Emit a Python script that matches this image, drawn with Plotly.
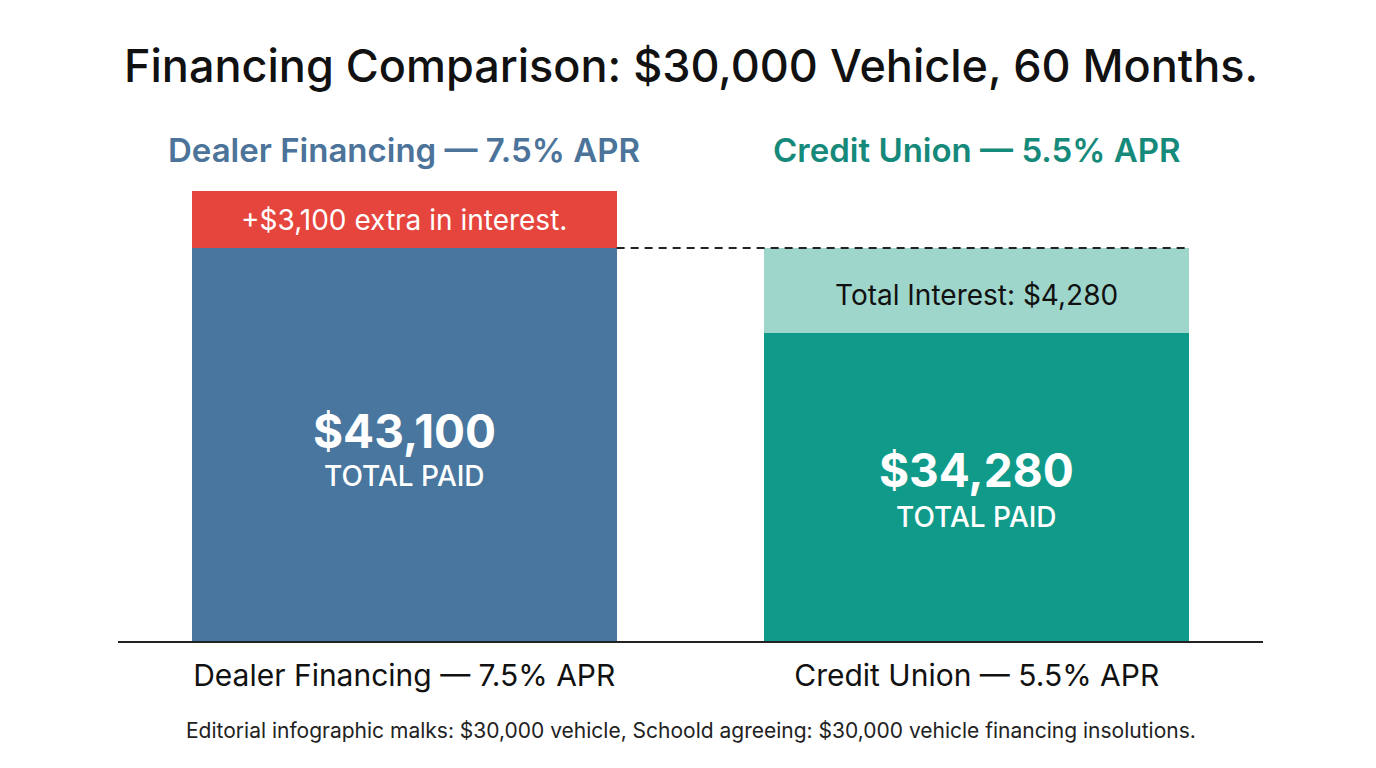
import plotly.graph_objects as go

# ---- data (segment heights, in dollars of the y scale) ----
categories = ["Dealer Financing — 7.5% APR", "Credit Union — 5.5% APR"]
header_labels = ["Dealer Financing — 7.5% APR", "Credit Union — 5.5% APR"]
base_segment = [34280, 26870]      # blue / dark teal
top_segment = [4970, 7410]         # red extra / light teal interest
total_labels = ["$43,100", "$34,280"]
top_labels = ["+$3,100 extra in interest.", "Total Interest: $4,280"]
reference_total = 34280            # dashed comparison line

TITLE = "Financing Comparison: $30,000 Vehicle, 60 Months."
FOOTNOTE = "Editorial infographic malks: $30,000 vehicle, Schoold agreeing: $30,000 vehicle financing insolutions."

base_colors = ["#48769e", "#0f9a8a"]
top_colors = ["#e5453d", "#9fd6cb"]
header_colors = ["#4c7399", "#15897a"]
top_text_colors = ["#ffffff", "#111111"]

FONT = "Inter"
BAR_W = 0.742
PLOT_H = 541

fig = go.Figure()
fig.add_trace(go.Bar(x=categories, y=base_segment, width=BAR_W,
                     marker=dict(color=base_colors, line=dict(width=0)),
                     hoverinfo="skip", showlegend=False))
fig.add_trace(go.Bar(x=categories, y=top_segment, width=BAR_W,
                     marker=dict(color=top_colors, line=dict(width=0)),
                     hoverinfo="skip", showlegend=False))

annotations = []
for i, cat in enumerate(categories):
    base_mid = base_segment[i] / 2
    top_mid = base_segment[i] + top_segment[i] / 2
    shifts = [(14, -31), (17, -30)][i]
    annotations.append(dict(x=cat, y=base_mid, text=total_labels[i], showarrow=False,
                            yshift=shifts[0], yanchor="middle",
                            font=dict(family=FONT, size=46, color="white", weight=700)))
    annotations.append(dict(x=cat, y=base_mid, text="TOTAL PAID", showarrow=False,
                            yshift=shifts[1], yanchor="middle",
                            font=dict(family=FONT, size=28, color="white", weight=500)))
    annotations.append(dict(x=cat, y=top_mid, text=top_labels[i], showarrow=False,
                            yshift=[0, -5][i], yanchor="middle",
                            font=dict(family=FONT, size=28, color=top_text_colors[i], weight=400)))
    annotations.append(dict(x=cat, y=(641 - 150) / PLOT_H, yref="paper", text=header_labels[i],
                            showarrow=False, yanchor="middle",
                            font=dict(family=FONT, size=33, color=header_colors[i], weight=600)))

annotations.append(dict(x=0.5, xref="paper", yref="paper", y=(641 - 65) / PLOT_H, text=TITLE,
                        showarrow=False, xanchor="center", yanchor="middle",
                        font=dict(family=FONT, size=45, color="#111111", weight=500)))
annotations.append(dict(x=(691 - 118) / 1145, xref="paper", yref="paper", y=-(731 - 641) / PLOT_H,
                        text=FOOTNOTE, showarrow=False, xanchor="center", yanchor="middle",
                        font=dict(family=FONT, size=21, color="#222222")))

fig.add_shape(type="line", xref="x", yref="y",
              x0=BAR_W / 2, x1=1 + BAR_W / 2, y0=reference_total, y1=reference_total,
              line=dict(color="#222222", width=2.2, dash="8px,6px"))

fig.update_layout(
    width=1376, height=768,
    margin=dict(l=110, r=121, t=92, b=135),
    paper_bgcolor="white", plot_bgcolor="white",
    barmode="stack", bargap=0,
    annotations=annotations,
    xaxis=dict(range=[-0.5, 1.5], showline=True, linecolor="#222222", linewidth=2,
               showgrid=False, zeroline=False, ticks="", ticklabelstandoff=7,
               tickfont=dict(family=FONT, size=30, color="#111111")),
    yaxis=dict(range=[0, 47190], visible=False, showgrid=False, zeroline=False),
)

fig.write_html("out.html")
